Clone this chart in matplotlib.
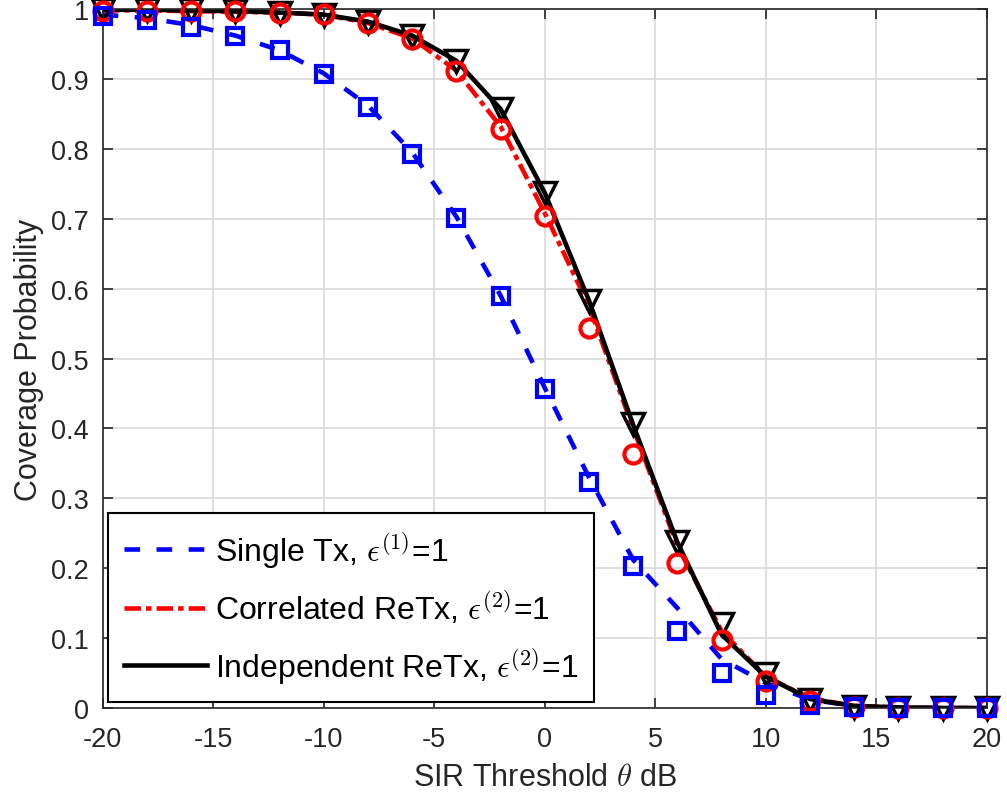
import numpy as np
import matplotlib
matplotlib.use('Agg')
import matplotlib.pyplot as plt

plt.rcParams['font.family'] = ['Liberation Sans', 'DejaVu Sans']
plt.rcParams['mathtext.fontset'] = 'cm'
plt.rcParams['axes.unicode_minus'] = False

# SIR threshold (dB)
theta_db = [-20, -18, -16, -14, -12, -10, -8, -6, -4, -2, 0,
            2, 4, 6, 8, 10, 12, 14, 16, 18, 20]

# analysis curves
single_ana = [0.992, 0.987, 0.977, 0.962, 0.941, 0.908, 0.862, 0.795, 0.703, 0.590, 0.458,
              0.330, 0.212, 0.143, 0.070, 0.036, 0.012, 0.003, 0.001, 0.0, 0.0]
corr_ana = [0.998, 0.998, 0.997, 0.996, 0.995, 0.992, 0.980, 0.958, 0.912, 0.832, 0.708,
            0.575, 0.400, 0.232, 0.110, 0.045, 0.014, 0.003, 0.001, 0.0, 0.0]
indep_ana = [0.999, 0.999, 0.998, 0.997, 0.995, 0.992, 0.982, 0.962, 0.926, 0.857, 0.737,
             0.583, 0.405, 0.237, 0.105, 0.045, 0.013, 0.003, 0.001, 0.0, 0.0]

# simulation points
single_sim = [0.990, 0.985, 0.975, 0.961, 0.941, 0.907, 0.860, 0.793, 0.701, 0.589, 0.457,
              0.323, 0.203, 0.110, 0.050, 0.018, 0.005, 0.001, 0.0, 0.0, 0.0]
corr_sim = [0.997, 0.997, 0.997, 0.997, 0.995, 0.993, 0.980, 0.957, 0.911, 0.829, 0.704,
            0.543, 0.363, 0.207, 0.098, 0.038, 0.010, 0.002, 0.0, 0.0, 0.0]
indep_sim = [0.999, 0.999, 0.998, 0.997, 0.995, 0.992, 0.982, 0.962, 0.926, 0.857, 0.737,
             0.583, 0.406, 0.237, 0.120, 0.048, 0.012, 0.002, 0.0, 0.0, 0.0]

labels = [r'Single Tx, $\epsilon^{\mathsf{(1)}}$=1',
          r'Correlated ReTx, $\epsilon^{\mathsf{(2)}}$=1',
          r'Independent ReTx, $\epsilon^{\mathsf{(2)}}$=1']

fig = plt.figure(figsize=(10.07, 8.03), dpi=100)
ax = fig.add_axes([0.102, 0.117, 0.878, 0.8705])

lw = 3.3
ax.plot(theta_db, single_ana, color='blue', linestyle=(0, (3.4, 3.6)), lw=lw, label=labels[0])
ax.plot(theta_db, corr_ana, color='red', linestyle=(0, (3.6, 1.1, 1.2, 1.1)), lw=lw, label=labels[1])
ax.plot(theta_db, indep_ana, color='black', linestyle='-', lw=lw, label=labels[2])

ax.plot(theta_db, indep_sim, linestyle='none', marker='v', ms=16, mew=2.5,
        mfc='none', mec='black', clip_on=False, zorder=3)
ax.plot(theta_db, corr_sim, linestyle='none', marker='o', ms=13, mew=3,
        mfc='none', mec='red', clip_on=False, zorder=4)
ax.plot(theta_db, single_sim, linestyle='none', marker='s', ms=11, mew=3,
        mfc='none', mec='blue', clip_on=False, zorder=5)

ax.set_xlim(-20, 20)
ax.set_ylim(0, 1)
ax.set_xticks(np.arange(-20, 21, 5))
ax.set_yticks(np.arange(0, 1.01, 0.1))
ax.set_yticklabels(['0', '0.1', '0.2', '0.3', '0.4', '0.5', '0.6', '0.7', '0.8', '0.9', '1'])
ax.grid(True, color='#d9d9d9', lw=1.2)
ax.set_axisbelow(True)
ax.tick_params(direction='in', top=True, right=True, length=7, width=1.2,
               labelsize=19.5, colors='#262626')
ax.tick_params(axis='x', pad=13)
ax.tick_params(axis='y', pad=10)
for s in ax.spines.values():
    s.set_color('#262626')
    s.set_linewidth(1.2)

ax.set_xlabel(r'SIR Threshold $\theta$ dB', fontsize=22, color='#262626', labelpad=7)
ax.set_ylabel('Coverage Probability', fontsize=22, color='#262626', labelpad=5)

leg = ax.legend(loc='lower left', bbox_to_anchor=(0.006, 0.009), fontsize=23,
                handlelength=2.6, handletextpad=0.25, labelspacing=0.6,
                borderpad=0.5, borderaxespad=0, fancybox=False, framealpha=1,
                edgecolor='black')
leg.get_frame().set_linewidth(1.5)

fig.savefig('out.png', dpi=100)
